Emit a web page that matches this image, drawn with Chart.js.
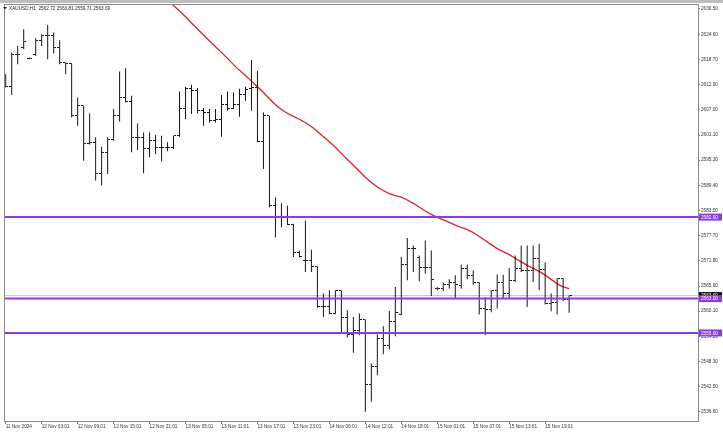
<!DOCTYPE html>
<html>
<head>
<meta charset="utf-8">
<script src="https://cdn.jsdelivr.net/npm/chart.js@4.4.1/dist/chart.umd.min.js"></script>
<style>
  html, body { margin: 0; padding: 0; background: #fff; }
  #wrap { width: 723px; height: 435px; position: relative; }
</style>
</head>
<body>
<div id="wrap"><canvas id="chart" width="723" height="435"></canvas></div>
<script>
// ===== Dados OHLC (XAUUSD H1), barra a barra =====
const opens = [
  2613.76, 2612.37, 2619.97, 2621.50, 2619.04, 2619.97, 2623.22, 2624.39, 2624.39, 2621.50,
  2618.01, 2617.87, 2605.62, 2607.95, 2599.04, 2599.42, 2592.07, 2597.02, 2599.97, 2605.79,
  2609.88, 2608.95, 2600.44, 2600.44, 2598.02, 2599.81, 2598.25, 2598.25, 2598.25, 2600.97,
  2607.41, 2612.06, 2611.60, 2606.79, 2606.39, 2604.62, 2604.86, 2608.18, 2607.41, 2608.34,
  2610.50, 2611.90, 2612.13, 2599.65, 2605.62, 2584.70, 2581.98, 2581.98, 2580.28, 2573.77,
  2571.91, 2571.91, 2570.52, 2561.05, 2561.21, 2559.52, 2564.93, 2558.59, 2554.70, 2555.64,
  2558.12, 2543.08, 2547.10, 2553.70, 2552.15, 2557.56, 2559.35, 2570.91, 2574.77, 2572.68,
  2570.35, 2570.35, 2565.33, 2565.33, 2566.26, 2566.73, 2566.10, 2570.12, 2568.42, 2566.68,
  2560.75, 2560.40, 2564.82, 2566.73, 2564.17, 2567.26, 2570.12, 2569.59, 2569.59, 2572.31,
  2569.82, 2561.84, 2562.21, 2567.65, 2562.72
];
const highs = [
  2615.32, 2620.34, 2621.90, 2625.78, 2619.18, 2623.69, 2624.62, 2626.78, 2625.00, 2623.22,
  2618.01, 2617.87, 2609.88, 2607.95, 2606.16, 2600.58, 2598.41, 2600.58, 2607.18, 2615.92,
  2616.71, 2610.27, 2603.83, 2601.74, 2601.74, 2601.20, 2600.97, 2599.42, 2600.97, 2611.27,
  2612.37, 2612.83, 2612.06, 2607.41, 2607.18, 2607.18, 2610.44, 2611.27, 2611.04, 2611.90,
  2612.37, 2618.64, 2616.09, 2606.39, 2605.62, 2586.63, 2585.23, 2584.70, 2580.44, 2574.24,
  2581.21, 2574.40, 2570.52, 2564.17, 2564.93, 2564.93, 2564.93, 2560.28, 2558.73, 2559.52,
  2558.12, 2547.89, 2554.70, 2556.57, 2560.12, 2565.70, 2572.68, 2577.10, 2575.40, 2573.07,
  2576.56, 2574.24, 2565.70, 2566.73, 2567.49, 2568.42, 2570.91, 2570.98, 2569.59, 2566.86,
  2563.38, 2564.93, 2568.65, 2568.59, 2570.12, 2573.07, 2575.40, 2575.40, 2575.40, 2575.79,
  2571.44, 2564.17, 2567.72, 2567.79, 2563.81
];
const lows = [
  2612.20, 2610.44, 2617.64, 2621.13, 2618.87, 2619.57, 2621.90, 2618.81, 2620.11, 2617.64,
  2615.32, 2605.23, 2603.30, 2595.16, 2598.90, 2590.51, 2589.35, 2592.07, 2599.81, 2604.30,
  2608.72, 2597.09, 2597.65, 2592.21, 2595.93, 2596.72, 2594.93, 2597.32, 2597.88, 2600.74,
  2604.86, 2606.02, 2606.16, 2603.30, 2604.06, 2604.06, 2600.74, 2606.79, 2607.18, 2605.39,
  2609.11, 2606.79, 2599.42, 2593.23, 2584.30, 2577.33, 2579.65, 2580.16, 2572.68, 2572.61,
  2569.19, 2569.19, 2560.87, 2558.73, 2559.35, 2559.35, 2555.01, 2553.94, 2550.36, 2554.47,
  2536.64, 2538.97, 2545.17, 2550.05, 2551.15, 2554.24, 2559.12, 2567.26, 2569.19, 2567.03,
  2568.82, 2563.61, 2564.93, 2564.70, 2565.33, 2563.00, 2565.33, 2567.49, 2566.26, 2559.28,
  2554.47, 2559.82, 2560.68, 2563.07, 2563.07, 2566.86, 2569.19, 2561.05, 2566.86, 2564.93,
  2561.61, 2560.05, 2559.28, 2562.38, 2559.71
];
const closes = [
  2612.37, 2619.97, 2619.80, 2622.90, 2619.04, 2623.22, 2624.39, 2624.39, 2621.50, 2618.01,
  2617.87, 2605.62, 2607.95, 2599.04, 2599.42, 2592.07, 2597.02, 2599.97, 2605.79, 2609.88,
  2608.95, 2600.44, 2600.44, 2598.02, 2599.81, 2598.25, 2598.25, 2598.25, 2600.97, 2607.41,
  2612.06, 2611.60, 2606.79, 2606.39, 2604.62, 2604.86, 2608.18, 2607.41, 2608.34, 2610.50,
  2611.83, 2612.13, 2599.65, 2605.62, 2584.70, 2581.98, 2581.98, 2580.28, 2573.77, 2572.84,
  2571.91, 2570.52, 2561.05, 2561.21, 2559.52, 2564.93, 2558.59, 2554.70, 2555.64, 2558.12,
  2543.08, 2547.10, 2553.70, 2552.15, 2557.56, 2559.82, 2570.91, 2574.77, 2574.63, 2570.35,
  2570.35, 2567.49, 2565.33, 2566.26, 2566.73, 2566.26, 2570.12, 2568.42, 2566.86, 2560.75,
  2560.45, 2564.82, 2566.79, 2564.17, 2567.26, 2570.12, 2569.59, 2569.59, 2572.31, 2569.82,
  2561.84, 2562.21, 2567.65, 2562.72, 2563.69
];

// Média móvel (linha vermelha) - começa na barra de índice maStart
const maStart = 27;
const maValues = [
  2632.64, 2631.31, 2630.04, 2628.69, 2627.25, 2625.85, 2624.45, 2623.06, 2621.71, 2620.39,
  2619.00, 2617.53, 2616.20, 2615.00, 2613.69, 2612.37, 2611.02, 2609.58, 2608.18, 2607.09,
  2606.20, 2605.48, 2604.81, 2604.00, 2603.13, 2601.95, 2600.74, 2599.58, 2598.28, 2596.86,
  2595.44, 2594.07, 2592.67, 2591.28, 2590.05, 2589.00, 2588.19, 2587.49, 2587.02, 2586.67,
  2585.98, 2585.21, 2584.28, 2583.42, 2582.65, 2581.95, 2581.35, 2580.75, 2580.14, 2579.58,
  2579.07, 2578.42, 2577.49, 2576.56, 2575.58, 2574.65, 2573.96, 2573.26, 2572.42, 2571.56,
  2570.75, 2570.05, 2569.35, 2568.47, 2567.49, 2566.45, 2565.75, 2565.33
];

// Eixo X: barras que recebem rótulo e os rótulos
const xTickBars = [0, 6, 12, 18, 24, 30, 36, 42, 48, 54, 60, 66, 72, 78, 84, 90];
const xTickLabels = [
  "11 Nov 2024", "12 Nov 03:01", "12 Nov 09:01", "12 Nov 15:01", "12 Nov 21:01", "13 Nov 05:01",
  "13 Nov 11:01", "13 Nov 17:01", "13 Nov 23:01", "14 Nov 06:01", "14 Nov 12:01", "14 Nov 18:01",
  "15 Nov 01:01", "15 Nov 07:01", "15 Nov 13:01", "15 Nov 19:01"
];

// Eixo Y (preço)
const yTicks = [
  2630.50, 2624.60, 2618.70, 2612.90, 2607.00, 2601.10, 2595.30, 2589.40, 2583.50,
  2577.70, 2571.80, 2565.90, 2560.10, 2554.20, 2548.30, 2542.50, 2536.60
];

// Linhas horizontais (suporte / resistência) e último preço
const levels = [2582.00, 2563.00, 2555.00];
const lastPrice = 2563.69;
const headerText = "XAUUSD,H1  2562.72 2563.81 2559.71 2563.69";

const FONT = '"Liberation Sans", Arial, sans-serif';
const FS = 4.7;
const BAR_COLOR = "#151515";
const LEVEL_COLOR = "#8f3ae6";

// Pequenos traços de abertura (esquerda) e fechamento (direita)
function tickImage(side) {
  const c = document.createElement("canvas");
  c.width = 5;
  c.height = 1;
  const g = c.getContext("2d");
  g.fillStyle = BAR_COLOR;
  if (side === "left") g.fillRect(0, 0, 2, 1);
  else g.fillRect(3, 0, 2, 1);
  return c;
}

const decorPlugin = {
  id: "mtDecor",
  beforeDraw(chart) {
    const c = chart.ctx;
    c.save();
    c.fillStyle = "#ffffff";
    c.fillRect(0, 0, chart.width, chart.height);
    c.restore();
  },
  beforeDatasetsDraw(chart) {
    // linha cinza do último preço
    const { ctx: c, chartArea: a, scales: { y } } = chart;
    const py = y.getPixelForValue(lastPrice);
    c.save();
    c.strokeStyle = "#c4c4c4";
    c.lineWidth = 1;
    c.beginPath();
    c.moveTo(a.left, py);
    c.lineTo(a.right, py);
    c.stroke();
    c.restore();
  },
  afterDatasetsDraw(chart) {
    // níveis roxos
    const { ctx: c, chartArea: a, scales: { y } } = chart;
    c.save();
    c.strokeStyle = LEVEL_COLOR;
    c.lineWidth = 2;
    levels.forEach(v => {
      const py = y.getPixelForValue(v);
      c.beginPath();
      c.moveTo(a.left, py);
      c.lineTo(a.right, py);
      c.stroke();
    });
    c.restore();
  },
  afterDraw(chart) {
    const { ctx: c, chartArea: a, scales: { y } } = chart;
    c.save();

    // faixa cinza superior e moldura
    c.fillStyle = "#bdbdbd";
    c.fillRect(0, 0, chart.width, 3);
    c.strokeStyle = "#8a8a8a";
    c.lineWidth = 1;
    c.strokeRect(a.left - 0.5, a.top - 0.5, a.right - a.left + 1, a.bottom - a.top + 1);

    // cabeçalho
    c.fillStyle = "#222";
    c.beginPath();
    c.moveTo(3, 7);
    c.lineTo(7, 7);
    c.lineTo(5, 9.5);
    c.closePath();
    c.fill();
    c.font = FS + "px " + FONT;
    c.textBaseline = "middle";
    c.textAlign = "left";
    c.fillText(headerText, 9, 8.5);

    // caixas de preço no eixo direito
    const box = (value, color) => {
      const py = y.getPixelForValue(value);
      c.fillStyle = color;
      c.fillRect(a.right + 1, py - 3.5, 23, 7);
      c.fillStyle = "#ffffff";
      c.fillText(value.toFixed(2), a.right + 3, py + 0.3);
    };
    box(lastPrice, "#000000");
    levels.forEach(v => box(v, LEVEL_COLOR));

    c.restore();
  }
};

const idx = opens.map((_, i) => i);

new Chart(document.getElementById("chart").getContext("2d"), {
  type: "bar",
  data: {
    datasets: [
      {
        type: "line",
        data: maValues.map((v, k) => ({ x: maStart + k, y: v })),
        borderColor: "#d62424",
        borderWidth: 1.3,
        pointRadius: 0,
        tension: 0,
        order: 3
      },
      {
        type: "bar",
        data: idx.map(i => ({ x: i, y: [lows[i], highs[i]] })),
        backgroundColor: BAR_COLOR,
        borderWidth: 0,
        barThickness: 1,
        inflateAmount: 0,
        order: 2
      },
      {
        type: "scatter",
        data: idx.map(i => ({ x: i, y: opens[i] })),
        pointStyle: tickImage("left"),
        pointRadius: 1,
        order: 1
      },
      {
        type: "scatter",
        data: idx.map(i => ({ x: i, y: closes[i] })),
        pointStyle: tickImage("right"),
        pointRadius: 1,
        order: 1
      }
    ]
  },
  options: {
    responsive: false,
    animation: false,
    events: [],
    layout: { padding: { top: 4, left: 1, right: 0, bottom: 0 } },
    plugins: { legend: { display: false }, tooltip: { enabled: false } },
    scales: {
      x: {
        type: "linear",
        min: -0.12,
        max: 115.5,
        offset: false,
        afterFit: s => { s.height = 14; },
        afterBuildTicks: s => { s.ticks = xTickBars.map(v => ({ value: v })); },
        grid: { drawOnChartArea: false, drawTicks: true, tickLength: 3, color: "#777", offset: false },
        border: { display: true, color: "#8a8a8a" },
        ticks: {
          autoSkip: false,
          maxRotation: 0,
          align: "start",
          padding: 0,
          color: "#333",
          font: { family: FONT, size: FS },
          callback: v => xTickLabels[xTickBars.indexOf(v)] ?? ""
        }
      },
      y: {
        position: "right",
        min: 2534.48,
        max: 2631.43,
        beginAtZero: false,
        afterFit: s => { s.width = 25; },
        afterBuildTicks: s => { s.ticks = yTicks.map(v => ({ value: v })); },
        grid: { drawOnChartArea: false, drawTicks: true, tickLength: 2, color: "#777" },
        border: { display: true, color: "#8a8a8a" },
        ticks: {
          padding: 1,
          color: "#333",
          font: { family: FONT, size: FS },
          callback: v => Number(v).toFixed(2)
        }
      }
    }
  },
  plugins: [decorPlugin]
});
</script>
</body>
</html>
